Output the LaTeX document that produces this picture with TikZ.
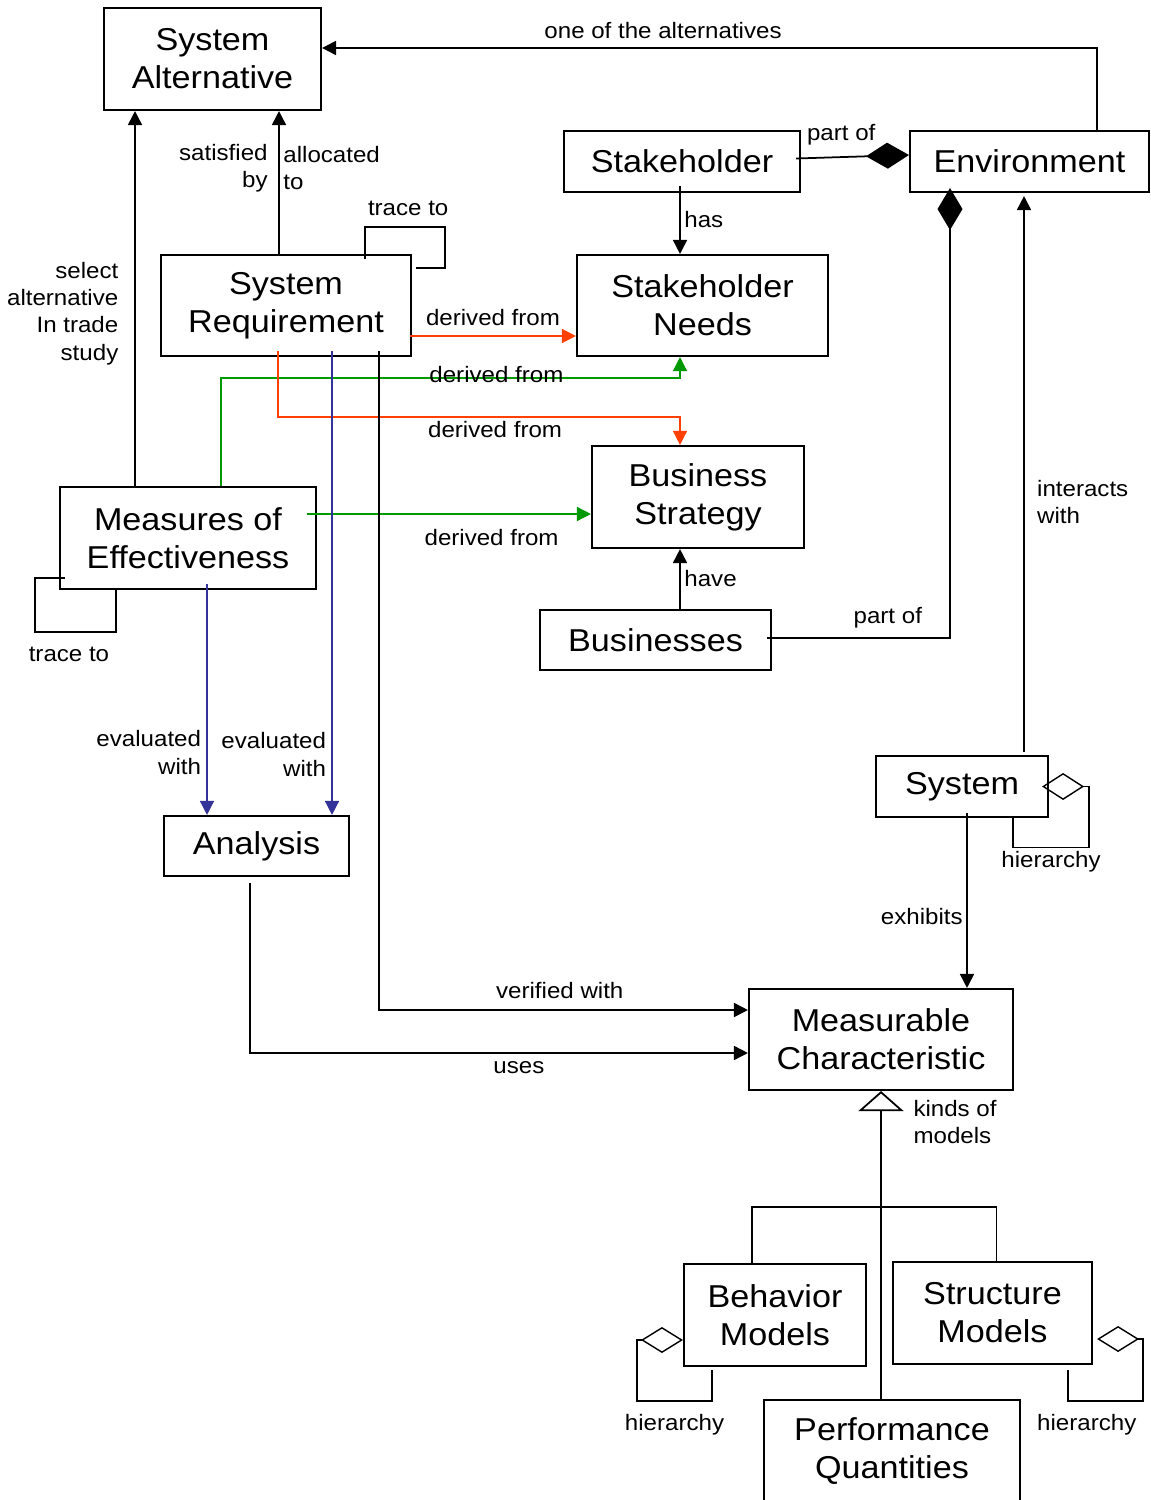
\documentclass[tikz,border=0pt]{standalone}
\usepackage{fontspec}
\setmainfont{Liberation Sans}[FakeStretch=1.08]
\usetikzlibrary{arrows.meta,positioning}

\definecolor{derivred}{RGB}{255,64,0}
\definecolor{derivgreen}{RGB}{0,153,0}
\definecolor{evalblue}{RGB}{51,51,153}

\tikzset{
  box/.style={draw, line width=1.2pt, align=center, inner sep=0pt,
    font=\fontsize{18}{21.6}\selectfont},
  loopline/.style={line width=0.8pt},
  colline/.style={line width=0.8pt}
}

\begin{document}
\begin{tikzpicture}[>={Triangle[length=0.28cm,width=0.28cm]}, line width=1pt,
    font=\fontsize{12.7}{15.6}\selectfont, inner sep=2pt]
\useasboundingbox (0,0) rectangle (23,-30);

\node[box, minimum width=4.34cm, minimum height=2.04cm] (sysalt) at (4.25,-1.18) {System\\Alternative};
\node[box, minimum width=4.72cm, minimum height=1.22cm] (stake) at (13.64,-3.23) {Stakeholder};
\node[box, minimum width=4.78cm, minimum height=1.22cm] (env) at (20.59,-3.23) {Environment};
\node[box, minimum width=5.0cm, minimum height=2.02cm] (sysreq) at (5.72,-6.11) {System\\Requirement};
\node[box, minimum width=5.02cm, minimum height=2.02cm] (needs) at (14.05,-6.11) {Stakeholder\\Needs};
\node[box, minimum width=5.12cm, minimum height=2.04cm] (moe) at (3.76,-10.76) {Measures of\\Effectiveness};
\node[box, minimum width=4.24cm, minimum height=2.04cm] (strat) at (13.96,-9.94) {Business\\Strategy};
\node[box, minimum width=4.62cm, minimum height=1.2cm] (bus) at (13.11,-12.8) {Businesses};
\node[box, minimum width=3.44cm, minimum height=1.22cm] (sys) at (19.24,-15.73) {System};
\node[box, minimum width=3.7cm, minimum height=1.2cm] (ana) at (5.13,-16.92) {Analysis};
\node[box, minimum width=5.28cm, minimum height=2.02cm] (meas) at (17.62,-20.79) {Measurable\\Characteristic};
\node[box, minimum width=3.64cm, minimum height=2.04cm] (beh) at (15.5,-26.3) {Behavior\\Models};
\node[box, minimum width=3.98cm, minimum height=2.04cm] (struc) at (19.85,-26.26) {Structure\\Models};
\node[box, minimum width=5.12cm, minimum height=2.04cm] (perf) at (17.84,-29.02) {Performance\\Quantities};

% top part
\draw[->] ([xshift=1.35cm]env.north) |- ([yshift=0.22cm]sysalt.east) node[pos=0.78, above=3pt]{one of the alternatives};
\draw[-{Diamond[length=0.86cm,width=0.52cm]}] ([xshift=-0.1cm,yshift=0.06cm]stake.east) -- ([yshift=0.13cm]env.west) node[pos=0.4, above=4.5pt]{part of};
\draw[->] ([xshift=-0.04cm,yshift=0.14cm]stake.south) -- ([xshift=-0.45cm]needs.north) node[midway, right]{has};
\draw[->] ([xshift=-0.14cm]sysreq.north) -- ([xshift=1.33cm]sysalt.south)
    node[pos=0.6, left=4pt, align=right]{satisfied\\by} node[pos=0.6, right, align=left]{allocated\\to};
\draw[->] ([xshift=-1.06cm]moe.north) -- ([xshift=-1.55cm]sysalt.south)
    node[pos=0.46, left=7pt, align=right]{select\\alternative\\In trade\\study};
\draw[loopline] ([xshift=1.58cm,yshift=-0.1cm]sysreq.north) |- ++(1.6,0.64) node[pos=0.77, above=4pt]{trace to}
    |- ([xshift=0.08cm,yshift=0.75cm]sysreq.east);

% derived from
\draw[->, derivred, colline] ([xshift=-0.04cm,yshift=-0.61cm]sysreq.east) -- ([yshift=-0.61cm]needs.west)
    node[midway, above=3.5pt, black]{derived from};
\draw[->, derivgreen, colline] ([xshift=0.66cm]moe.north) |- ([xshift=-0.45cm,yshift=-0.42cm]needs.south)
    node[pos=0.8, yshift=2pt, black]{derived from} -- ([xshift=-0.45cm]needs.south);
\draw[->, derivred, colline] ([xshift=-0.16cm,yshift=0.12cm]sysreq.south) |- ([xshift=-0.36cm,yshift=0.56cm]strat.north)
    node[pos=0.77, below=0pt, black]{derived from} -- ([xshift=-0.36cm]strat.north);
\draw[->, derivgreen, colline] ([xshift=-0.2cm,yshift=0.48cm]moe.east) -- ([yshift=-0.34cm]strat.west)
    node[pos=0.65, below=6.5pt, black]{derived from};

\draw[->] ([xshift=0.49cm]bus.north) -- ([xshift=-0.36cm]strat.south) node[midway, right]{have};
\draw[-{Diamond[length=0.84cm,width=0.5cm]}] ([xshift=-0.1cm,yshift=0.04cm]bus.east) -| ([xshift=-1.59cm,yshift=0.1cm]env.south)
    node[pos=0.33, above=3pt]{part of};
\draw[->] ([xshift=1.24cm,yshift=0.06cm]sys.north) -- ([xshift=-0.11cm,yshift=-0.06cm]env.south)
    node[pos=0.45, right=5pt, align=left]{interacts\\with};
\draw[loopline, {Diamond[open,length=0.84cm,width=0.54cm]}-] ([xshift=-0.14cm]sys.east) -| ++(0.94,-1.22)
    -| ([xshift=1.02cm]sys.south) node[pos=0.25, below=0pt]{hierarchy};
\draw[->] ([xshift=0.1cm,yshift=0.1cm]sys.south) -- ([xshift=1.72cm]meas.north) node[pos=0.59, left=0pt]{exhibits};

% measures and analysis
\draw[loopline] ([xshift=0.12cm,yshift=0.24cm]moe.south west) -| ++(-0.6,-1.08)
    -| ([xshift=1.14cm]moe.south west) node[pos=0.21, below=6pt]{trace to};
\draw[->, evalblue, colline] ([xshift=0.38cm,yshift=0.12cm]moe.south) -- ([xshift=-0.99cm]ana.north)
    node[pos=0.73, left=1pt, black, align=right]{evaluated\\with};
\draw[->, evalblue, colline] ([xshift=0.92cm,yshift=0.12cm]sysreq.south) -- ([xshift=1.51cm]ana.north)
    node[pos=0.87, left=1pt, black, align=right]{evaluated\\with};
\draw[->] ([xshift=1.86cm,yshift=0.12cm]sysreq.south) |- ([yshift=0.59cm]meas.west) node[pos=0.745, above=4pt]{verified with};
\draw[->] ([xshift=-0.13cm,yshift=-0.12cm]ana.south) |- ([yshift=-0.27cm]meas.west) node[pos=0.77, below=2.5pt]{uses};

% kinds of models
\draw[-{Triangle[open,length=0.4cm,width=0.9cm]}] ([xshift=-0.22cm]perf.north) -- (meas.south)
    node[pos=0.9, right=16pt, align=left]{kinds of\\models};
\draw ([xshift=-0.46cm]beh.north) -- ++(0,1.12) -| ([xshift=0.08cm]struc.north);
\draw[loopline, -{Diamond[open,length=0.84cm,width=0.52cm]}] ([xshift=-1.26cm,yshift=-0.06cm]beh.south) |- ++(-1.5,-0.62)
    node[pos=0.75, below=5pt]{hierarchy} |- ([yshift=-0.5cm]beh.west);
\draw[loopline, -{Diamond[open,length=0.84cm,width=0.52cm]}] ([xshift=1.51cm,yshift=-0.1cm]struc.south) |- ++(1.5,-0.62)
    node[pos=0.625, below=5pt]{hierarchy} |- ([xshift=0.08cm,yshift=-0.52cm]struc.east);

\end{tikzpicture}
\end{document}
